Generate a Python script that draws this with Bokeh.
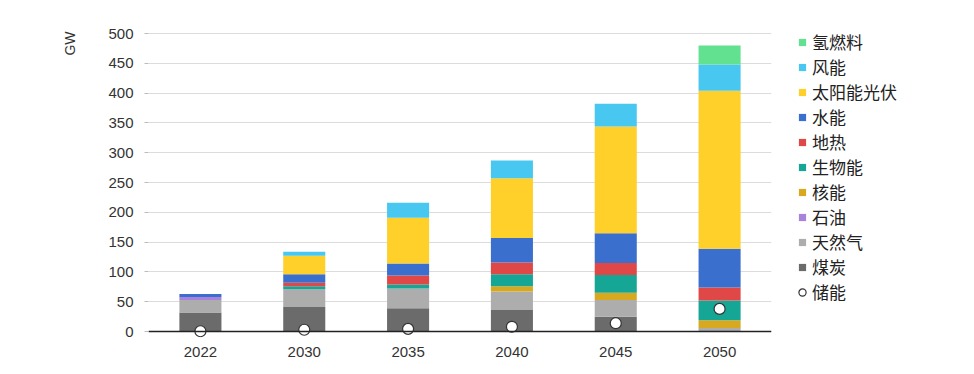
from bokeh.plotting import figure
from bokeh.models import (ColumnDataSource, Legend, LegendItem, Title, Span,
                          SingleIntervalTicker, FactorRange, Range1d)
from bokeh.embed import file_html
from bokeh.resources import INLINE

years = ['2022', '2030', '2035', '2040', '2045', '2050']
coal = [32, 41, 39, 36, 25, 1]
gas = [21, 30, 33, 31, 28, 5]
oil = [5, 0, 0, 0, 0, 0]
nuclear = [0, 0, 0, 9, 12, 13]
bio = [0, 5, 7, 20, 30, 33]
geo = [0, 6, 15, 20, 20, 22]
hydro = [5, 14, 20, 41, 50, 65]
solar = [0, 31, 77, 100, 179, 265]
wind = [0, 7, 25, 30, 38, 44]
hydrogen = [0, 0, 0, 0, 0, 32]
storage = [0.5, 3, 4.5, 8, 14, 38]

stack_keys = ['coal', 'gas', 'oil', 'nuclear', 'bio', 'geo', 'hydro', 'solar', 'wind', 'hydrogen']
stack_names = ['煤炭', '天然气', '石油', '核能', '生物能', '地热', '水能', '太阳能光伏', '风能', '氢燃料']
colors = ['#6b6b6b', '#adadad', '#a982dc', '#d8a91e', '#15a696', '#e04848',
          '#3b6fcd', '#ffcf2a', '#48c8f0', '#62e290']

source = ColumnDataSource(data=dict(years=years, coal=coal, gas=gas, oil=oil, nuclear=nuclear,
                                    bio=bio, geo=geo, hydro=hydro, solar=solar, wind=wind,
                                    hydrogen=hydrogen, storage=storage))

# frame: 0 at y=331, 500 at y=33 (0.5961 px per GW); top extended to y=14
p = figure(x_range=FactorRange(*years, range_padding=0), y_range=Range1d(-10, 531.9),
           frame_width=623, frame_height=323, min_border_left=148, min_border_top=14,
           min_border_bottom=37, min_border_right=203,
           output_backend="svg", toolbar_location=None)
p.x_range.range_padding = 0
p.outline_line_color = None
p.background_fill_color = "white"

p.vbar_stack(stack_keys, x='years', width=0.405, color=colors, source=source,
             line_color=None)

storage_r = p.scatter(x='years', y='storage', source=source, marker='circle', size=11,
                      fill_color='white', line_color='#333333', line_width=1.2)

zero = Span(location=0, dimension='width', line_color='#222222', line_width=1.5)
p.add_layout(zero)

# axes
p.xgrid.grid_line_color = None
p.ygrid.grid_line_color = '#dcdcdc'
p.ygrid.grid_line_width = 1
p.yaxis.ticker = SingleIntervalTicker(interval=50)
p.ygrid.ticker = SingleIntervalTicker(interval=50)
p.yaxis.axis_line_color = None
p.yaxis.major_tick_line_color = '#bbbbbb'
p.yaxis.major_tick_out = 4
p.yaxis.major_tick_in = 0
p.yaxis.minor_tick_line_color = None
p.yaxis.major_label_standoff = 11
p.yaxis.major_label_text_font = "Liberation Sans"
p.yaxis.major_label_text_font_size = "15px"
p.yaxis.major_label_text_color = "#333333"

p.xaxis.axis_line_color = None
p.xaxis.major_tick_line_color = None
p.xaxis.minor_tick_line_color = None
p.xaxis.major_label_standoff = 3
p.xaxis.major_label_text_font = "Liberation Sans"
p.xaxis.major_label_text_font_size = "15px"
p.xaxis.major_label_text_color = "#333333"

gw = Title(text="GW", align="right", text_font="Liberation Sans", text_font_size="14px",
           text_font_style="normal", text_color="#333333", standoff=56, offset=17)
p.add_layout(gw, "left")

# legend: placeholder markers (NaN, never drawn) so squares share the circle's size
items = []
for key, name, col in reversed(list(zip(stack_keys, stack_names, colors))):
    r = p.scatter(x=[years[0]], y=[float('nan')], marker='square', size=7,
                  fill_color=col, line_color=None)
    items.append(LegendItem(label=name, renderers=[r]))
items.append(LegendItem(label='储能', renderers=[storage_r]))

legend = Legend(items=items, location=(22, 33), glyph_width=18, glyph_height=18,
                label_height=20, spacing=0, padding=0, margin=0, label_standoff=1,
                label_text_font="Noto Sans CJK SC", label_text_font_size="17px",
                label_text_color="#222222", border_line_color=None,
                background_fill_alpha=0)
p.add_layout(legend, "right")

open("out.html", "w").write(file_html(p, INLINE))
